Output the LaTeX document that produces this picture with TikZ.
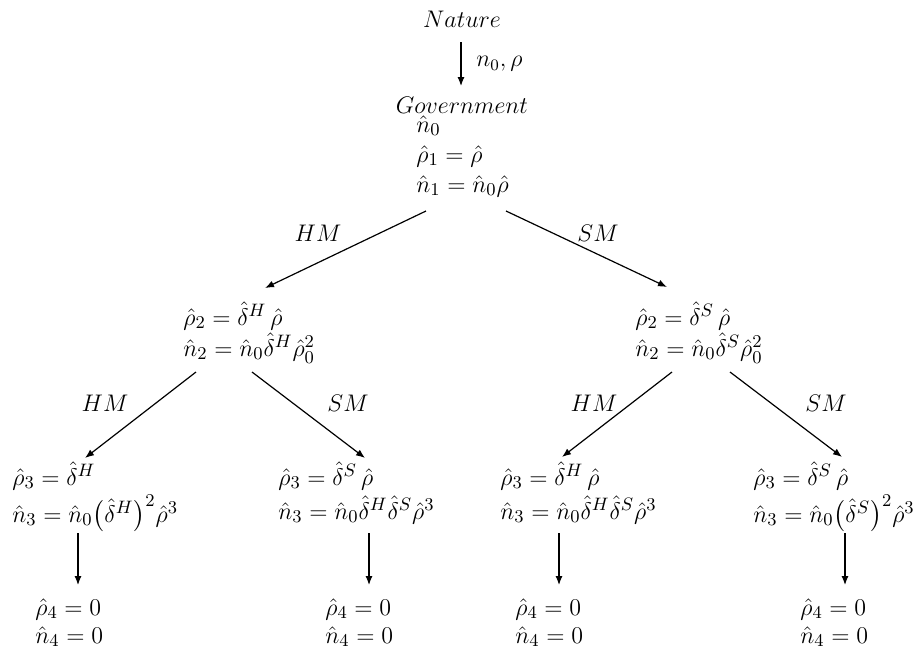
\documentclass[tikz,border=0pt]{standalone}
\usepackage{amsmath,amssymb}
\usepackage{tikz}
\usetikzlibrary{arrows.meta,positioning}

% lines of one block, first line on the baseline
\newcommand{\eqlines}[1]{\begin{tabular}[t]{@{}l@{}}#1\end{tabular}}

\begin{document}
\begin{tikzpicture}[
    x=0.5pt, y=-0.5pt,
    font=\fontsize{12}{15}\selectfont,
    eqn/.style={anchor=base west, inner sep=0pt, font=\fontsize{13}{15}\selectfont},
    eqtwo/.style={eqn, font=\fontsize{13}{13.5}\selectfont},
    eqthree/.style={eqn, font=\fontsize{13}{17}\selectfont},
    eqfour/.style={eqn, font=\fontsize{13}{14}\selectfont},
    lbl/.style={inner sep=0pt, midway},
    arrow/.style={-{Latex[length=4.5pt,width=3.5pt]}, line width=0.6pt},
  ]
    \useasboundingbox (0,0) rectangle (918,649);

    % ---- Nature / Government ----
    \node[anchor=base, inner sep=0pt] (nature) at (462,27) {$Nature$};
    \node[anchor=base, inner sep=0pt] (gov) at (462,113) {$Government$};
    \node[eqn] (govvals) at (416,132)
      {\eqlines{$\hat{n}_0$\\$\hat{\rho}_1=\hat{\rho}$\\$\hat{n}_1=\hat{n}_0\hat{\rho}$}};

    % ---- stage 2 ----
    \node[eqtwo] (l2a) at (183,325)
      {\eqlines{$\hat{\rho}_2=\hat{\delta}^H\,\hat{\rho}$\\$\hat{n}_2=\hat{n}_0\hat{\delta}^H\hat{\rho}_0^2$}};
    \node[eqtwo] (l2b) at (635,325)
      {\eqlines{$\hat{\rho}_2=\hat{\delta}^S\,\hat{\rho}$\\$\hat{n}_2=\hat{n}_0\hat{\delta}^S\hat{\rho}_0^2$}};

    % ---- stage 3 ----
    \node[eqthree] (l3a) at (12,485)
      {\eqlines{$\hat{\rho}_3=\hat{\delta}^H$\\$\hat{n}_3=\hat{n}_0\big(\hat{\delta}^H\big)^2\hat{\rho}^3$}};
    \node[eqthree] (l3b) at (278,485)
      {\eqlines{$\hat{\rho}_3=\hat{\delta}^S\,\hat{\rho}$\\$\hat{n}_3=\hat{n}_0\hat{\delta}^H\hat{\delta}^S\hat{\rho}^3$}};
    \node[eqthree] (l3c) at (500,485)
      {\eqlines{$\hat{\rho}_3=\hat{\delta}^H\,\hat{\rho}$\\$\hat{n}_3=\hat{n}_0\hat{\delta}^H\hat{\delta}^S\hat{\rho}^3$}};
    \node[eqthree] (l3d) at (753,485)
      {\eqlines{$\hat{\rho}_3=\hat{\delta}^S\,\hat{\rho}$\\$\hat{n}_3=\hat{n}_0\big(\hat{\delta}^S\big)^2\hat{\rho}^3$}};

    % ---- stage 4 ----
    \node[eqfour] (l4a) at (35,615) {\eqlines{$\hat{\rho}_4=0$\\$\hat{n}_4=0$}};
    \node[eqfour] (l4b) at (325,615) {\eqlines{$\hat{\rho}_4=0$\\$\hat{n}_4=0$}};
    \node[eqfour] (l4c) at (515,615) {\eqlines{$\hat{\rho}_4=0$\\$\hat{n}_4=0$}};
    \node[eqfour] (l4d) at (800,615) {\eqlines{$\hat{\rho}_4=0$\\$\hat{n}_4=0$}};

    % ---- arrows ----
    \draw[arrow] ([shift={(-1,15)}]nature.base) -- node[right, xshift=4pt] {$n_0,\rho$} ([shift={(-1,-27)}]gov.base);

    \draw[arrow] ([shift={(10,79)}]govvals.base west) -- node[lbl, xshift=-13.75pt, yshift=8.25pt] {$HM$} ([shift={(82,-37)}]l2a.base west);
    \draw[arrow] ([shift={(90,79)}]govvals.base west) -- node[lbl, xshift=5.75pt, yshift=8pt] {$SM$} ([shift={(32,-38)}]l2b.base west);

    \draw[arrow] ([shift={(13,47)}]l2a.base west) -- node[lbl, xshift=-17.75pt, yshift=6pt] {$HM$} ([shift={(73,-27)}]l3a.base west);
    \draw[arrow] ([shift={(69,47)}]l2a.base west) -- node[lbl, xshift=19.75pt, yshift=6pt] {$SM$} ([shift={(87,-27)}]l3b.base west);
    \draw[arrow] ([shift={(37,47)}]l2b.base west) -- node[lbl, xshift=-11.5pt, yshift=5.75pt] {$HM$} ([shift={(62,-28)}]l3c.base west);
    \draw[arrow] ([shift={(95,47)}]l2b.base west) -- node[lbl, xshift=20pt, yshift=5.75pt] {$SM$} ([shift={(89,-28)}]l3d.base west);

    \draw[arrow] ([shift={(66,48)}]l3a.base west) -- ([shift={(43,-30)}]l4a.base west);
    \draw[arrow] ([shift={(91,48)}]l3b.base west) -- ([shift={(44,-30)}]l4b.base west);
    \draw[arrow] ([shift={(59,48)}]l3c.base west) -- ([shift={(44,-30)}]l4c.base west);
    \draw[arrow] ([shift={(92,48)}]l3d.base west) -- ([shift={(45,-30)}]l4d.base west);
  \end{tikzpicture}
\end{document}
